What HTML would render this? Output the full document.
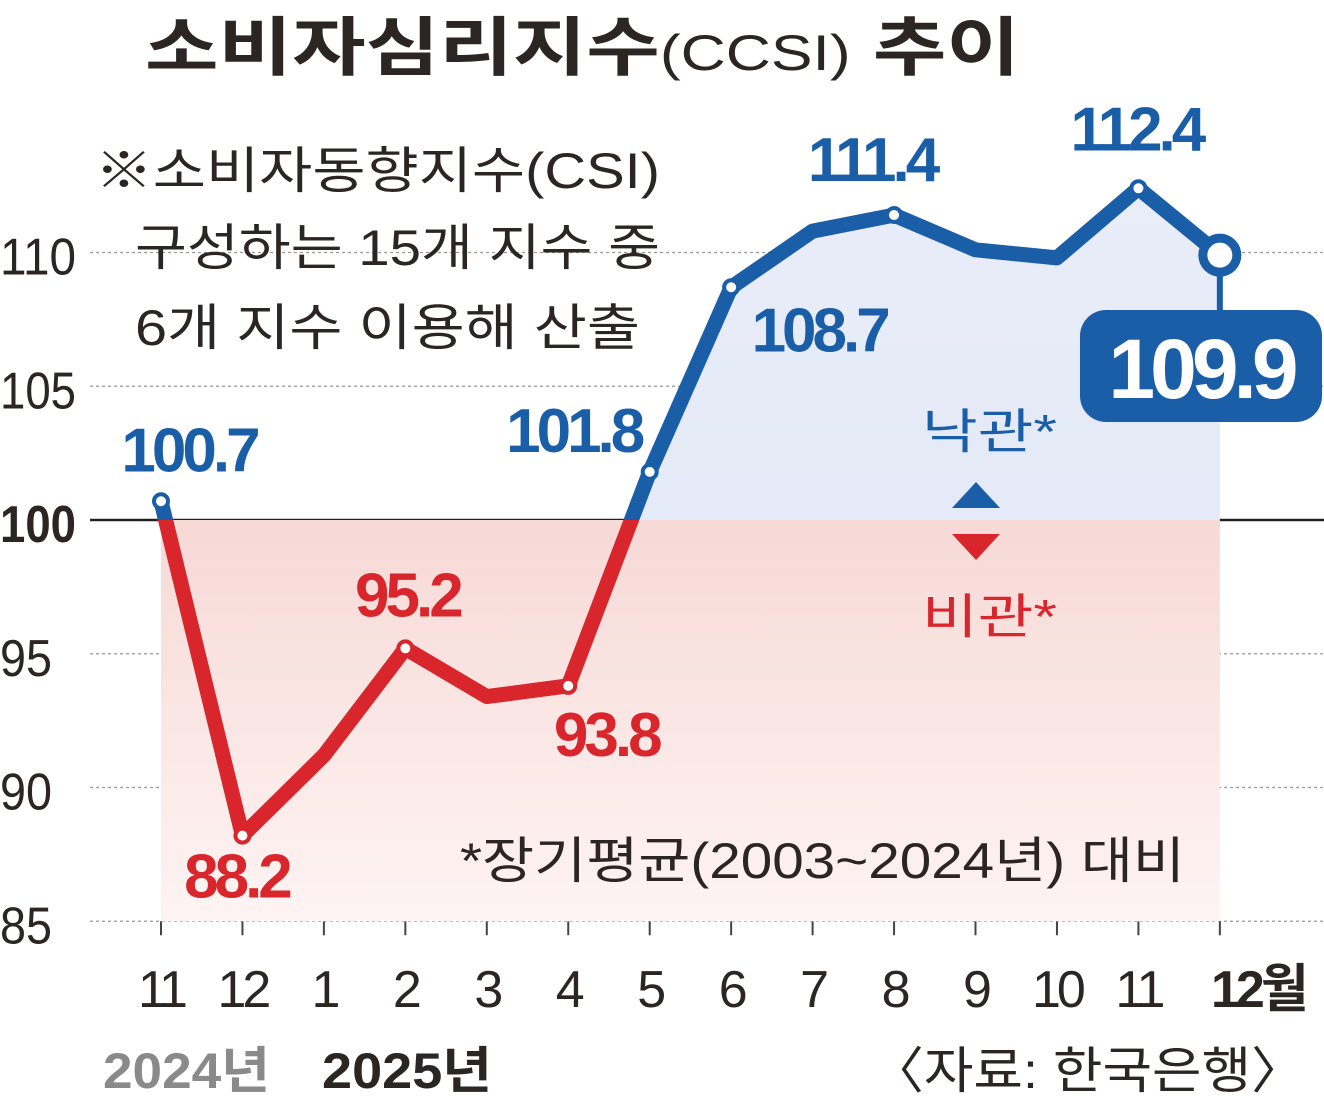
<!DOCTYPE html>
<html><head><meta charset="utf-8"><style>
body{margin:0;background:#fff;}
svg{display:block;font-family:"Liberation Sans","Noto Sans CJK KR",sans-serif;}
</style></head><body>
<svg id="c" width="1324" height="1096" viewBox="0 0 1324 1096">
<defs>
<linearGradient id="rg" x1="0" y1="0" x2="0" y2="1"><stop offset="0" stop-color="#f7d9d6"/><stop offset="1" stop-color="#fdf4f3"/></linearGradient>
<linearGradient id="bg" x1="0" y1="0" x2="0" y2="1"><stop offset="0" stop-color="#e9edf8"/><stop offset="1" stop-color="#dfe6f6"/></linearGradient>
<clipPath id="above"><rect x="0" y="0" width="1324" height="520"/></clipPath>
<clipPath id="below"><rect x="0" y="520" width="1324" height="600"/></clipPath>
</defs>
<text x="145" y="70" font-size="64" font-weight="bold" fill="#2b2623" textLength="875" lengthAdjust="spacingAndGlyphs">소비자심리지수<tspan font-weight="normal" font-size="50">(CCSI)</tspan> 추이</text>
<g id="grid"></g>
<g id="fills"></g>
<g id="lines"></g>
<g id="labels"></g>
<g font-size="50" fill="#2b2623">
<text x="95" y="188" textLength="565" lengthAdjust="spacingAndGlyphs">※소비자동향지수(CSI)</text>
<text x="135" y="265" textLength="525" lengthAdjust="spacingAndGlyphs">구성하는 15개 지수 중</text>
<text x="135" y="345" textLength="505" lengthAdjust="spacingAndGlyphs">6개 지수 이용해 산출</text>
<text x="460" y="878" textLength="725" lengthAdjust="spacingAndGlyphs">*장기평균(2003~2024년) 대비</text>
</g>
<g>
<text x="922" y="448" font-size="48" fill="#1a5ea8" textLength="135" lengthAdjust="spacingAndGlyphs">낙관*</text>
<polygon points="952,508 976,482 1000,508" fill="#1a5ea8"/>
<polygon points="952,534 976,560 1000,534" fill="#d8262c"/>
<text x="922" y="633" font-size="48" fill="#d8262c" textLength="135" lengthAdjust="spacingAndGlyphs">비관*</text>
</g>
<text x="103" y="1088" font-size="50" font-weight="bold" fill="#8a8a8a" textLength="167" lengthAdjust="spacingAndGlyphs">2024년</text>
<text x="322" y="1088" font-size="50" font-weight="bold" fill="#2b2623" textLength="170" lengthAdjust="spacingAndGlyphs">2025년</text>
<text x="870" y="1088" font-size="50" fill="#2b2623" textLength="435" lengthAdjust="spacingAndGlyphs">〈자료: 한국은행〉</text>
</svg>
<script>
const categories=["11","12","1","2","3","4","5","6","7","8","9","10","11","12월"];
const values=[100.7,88.2,91.2,95.2,93.4,93.8,101.8,108.7,110.8,111.4,110.1,109.8,112.4,109.9];
const yTicks=[85,90,95,100,105,110];
const labeled=[0,1,3,5,6,7,9,12];
const labelOffsets={0:[28,-30],1:[-6,62],3:[2,-32],5:[38,70],6:[-76,-20],7:[88,64],9:[-22,-34],12:[-2,-38]};
const x=i=>161+i*81.45;
const y=v=>520-(v-100)*26.75;
const NS="http://www.w3.org/2000/svg";
function mk(t,a,p){const e=document.createElementNS(NS,t);for(const k in a)e.setAttribute(k,a[k]);p.appendChild(e);return e;}
const grid=document.getElementById('grid'),fills=document.getElementById('fills'),lines=document.getElementById('lines'),labels=document.getElementById('labels');
const rf=mk('rect',{x:x(0),y:y(100),width:x(13)-x(0),height:y(85)-y(100),fill:'url(#rg)'},fills);


let pts=values.map((v,i)=>x(i)+','+y(v)).join(' ');
const bf=mk('polygon',{points:x(0)+','+y(100)+' '+pts+' '+x(13)+','+y(100),fill:'url(#bg)','clip-path':'url(#above)'},fills);


yTicks.forEach(t=>{
 const l=mk('line',{x1:90,x2:1324,y1:y(t),y2:y(t),stroke:t===100?'#222':'#999','stroke-width':t===100?2.5:1.2,'stroke-dasharray':t===100?'':'3,3'},grid);
 
 
 const tx=mk('text',{x:0,y:y(t)+22,'font-size':52,fill:'#2b2623','font-weight':t===100?'bold':'normal',textLength:t>=100?76:52,lengthAdjust:'spacingAndGlyphs'},grid);
 tx.textContent=t;
 
 
});
categories.forEach((c,i)=>{
 const l=mk('line',{x1:x(i),x2:x(i),y1:y(85),y2:y(85)+14,stroke:'#444','stroke-width':2},grid);
 
 
 const tx=mk('text',{x:x(i)+(i===13?38:0),y:1007,'text-anchor':'middle','font-size':52,fill:'#2b2623','font-weight':i===13?'bold':'normal',transform:'',style:'letter-spacing:-4px'},grid);
 tx.textContent=c;
 
 
});
const lb=mk('polyline',{points:pts,fill:'none',stroke:'#1a5ea8','stroke-width':15,'stroke-linejoin':'round','stroke-linecap':'round','clip-path':'url(#above)'},lines);


const lr=mk('polyline',{points:pts,fill:'none',stroke:'#d8262c','stroke-width':15,'stroke-linejoin':'round','stroke-linecap':'round','clip-path':'url(#below)'},lines);


labeled.concat([13]).forEach(i=>{
 const col=values[i]>=100?'#1a5ea8':'#d8262c';
 const last=i===13;
 const d=mk('circle',{cx:x(i),cy:y(values[i]),r:last?17:7,fill:'#fff',stroke:col,'stroke-width':last?9:4},lines);
 
 
});
labeled.forEach(i=>{
 const col=values[i]>=100?'#1a5ea8':'#d8262c';
 const o=labelOffsets[i];
 const t=mk('text',{x:x(i)+o[0],y:y(values[i])+o[1],'text-anchor':'middle','font-size':62,'font-weight':'bold',fill:col,'letter-spacing':'-4'},labels);
 t.textContent=values[i].toFixed(1);
 
 
});
const cx=x(13),cy=y(values[13]);
const cl=mk('line',{x1:cx,y1:cy+17,x2:cx,y2:310,stroke:'#1a5ea8','stroke-width':6},labels);


const cb=mk('rect',{x:1080,y:310,width:242,height:112,rx:26,fill:'#1a5ea8'},labels);


const ct=mk('text',{x:1201,y:398,'text-anchor':'middle','font-size':84,'font-weight':'bold',fill:'#fff','letter-spacing':'-5'},labels);
ct.textContent=values[13].toFixed(1);


</script>
</body></html>
